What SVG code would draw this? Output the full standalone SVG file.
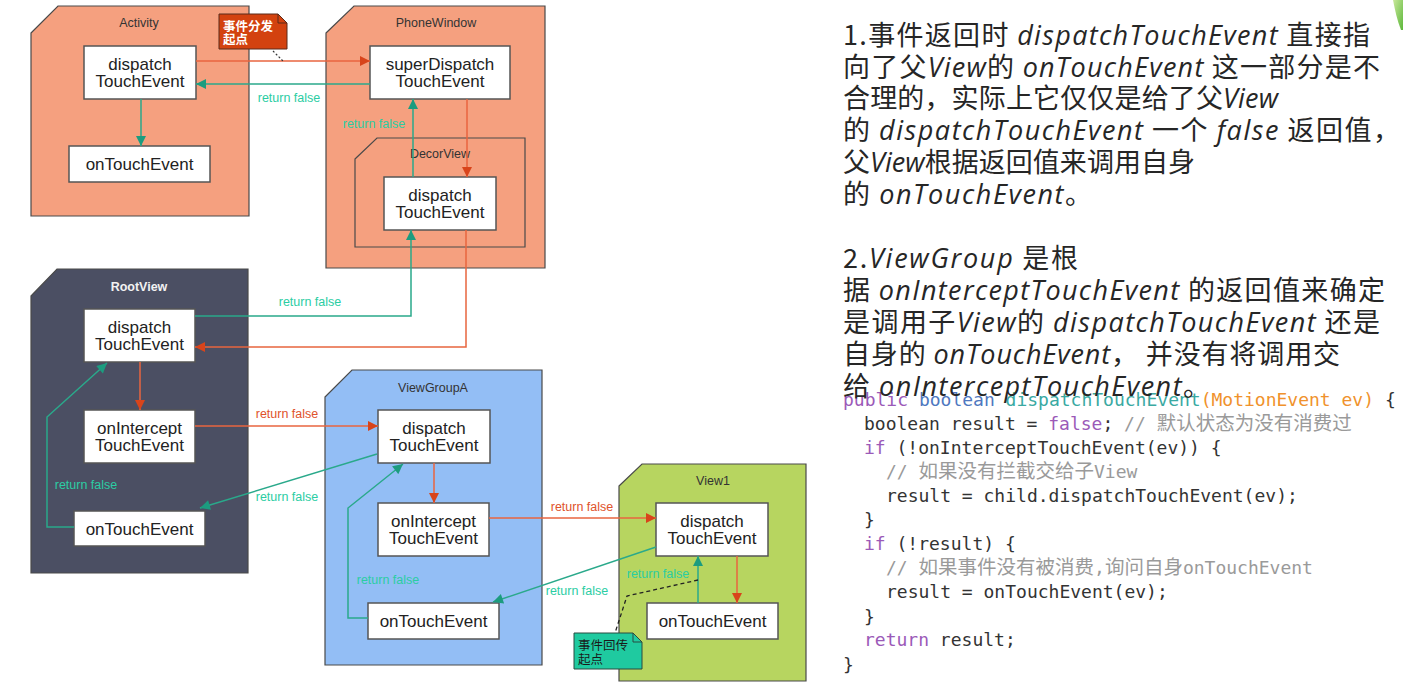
<svg xmlns="http://www.w3.org/2000/svg" width="1403" height="688" viewBox="0 0 1403 688">
<style>
.cont{stroke:#4a4a4a;stroke-width:1.2}
.salmon{fill:#f5a07f}
.slate{fill:#4b4f63}
.blue{fill:#93bef5}
.lime{fill:#b7d560}
.box{fill:#ffffff;stroke:#555555;stroke-width:1.5}
.lbl{font-family:"Liberation Sans",Arial,sans-serif;font-size:17px;fill:#222;text-anchor:middle}
.title{font-family:"Liberation Sans",Arial,sans-serif;font-size:12.5px;fill:#333;text-anchor:middle}
.rf{font-family:"Liberation Sans",Arial,sans-serif;font-size:12.5px;text-anchor:middle}
.rfg{fill:#2bcda3}
.rfr{fill:#e0532b}
.red{stroke:#e8653f;stroke-width:1.5;fill:none;marker-end:url(#ar)}
.grn{stroke:#2aa98b;stroke-width:1.5;fill:none;marker-end:url(#ag)}
.note{font-family:"Noto Sans CJK SC","Liberation Sans",sans-serif;font-size:12.5px}
.para{font-family:"Noto Sans CJK SC","Liberation Sans",sans-serif;font-size:27px;fill:#262626}
.lat{font-family:"Open Sans","DejaVu Sans",sans-serif;font-style:italic}
.code{font-family:"DejaVu Sans Mono","Liberation Mono","Noto Sans CJK SC",monospace;font-size:18px;fill:#333;white-space:pre}
.cj{font-family:"Noto Sans CJK SC",sans-serif;font-size:19.5px}
.kw{fill:#9b5ab8}
.ty{fill:#4f78c0}
.fn{fill:#3aa9a2}
.or{fill:#f0922c}
.cm{fill:#9a9a9a}
</style>
<defs>
<marker id="ar" viewBox="0 0 10 10" refX="10" refY="5" markerWidth="11" markerHeight="10" markerUnits="userSpaceOnUse" orient="auto"><path d="M0,0 L10,5 L0,10 z" fill="#d8441b"/></marker>
<marker id="ag" viewBox="0 0 10 10" refX="10" refY="5" markerWidth="11" markerHeight="10" markerUnits="userSpaceOnUse" orient="auto"><path d="M0,0 L10,5 L0,10 z" fill="#1c9c7f"/></marker>
<linearGradient id="leaf" x1="0" y1="0" x2="1" y2="1"><stop offset="0" stop-color="#c9e89a"/><stop offset="1" stop-color="#5db83b"/></linearGradient>
</defs>

<path d="M1393,0 C1395,10 1397,20 1401,30 L1403,30 L1403,0 Z" fill="url(#leaf)"/>

<g id="activity">
<path class="cont salmon" d="M31,33 L58,6 L249,6 L249,216 L31,216 Z"/>
<text class="title" x="139" y="26.5">Activity</text>
</g>
<g id="activity-dispatch">
<rect class="box" x="84" y="46" width="112" height="53"/>
<text class="lbl" x="140" y="70">dispatch</text><text class="lbl" x="140" y="87">TouchEvent</text>
</g>
<g id="activity-ontouch">
<rect class="box" x="69" y="146" width="141" height="36"/>
<text class="lbl" x="139.5" y="170">onTouchEvent</text>
</g>

<g id="phonewindow">
<path class="cont salmon" d="M326,33 L354,6 L545,6 L545,268 L326,268 Z"/>
<text class="title" x="436" y="26.5">PhoneWindow</text>
</g>
<g id="pw-superdispatch">
<rect class="box" x="370" y="46" width="140" height="53"/>
<text class="lbl" x="440" y="70">superDispatch</text><text class="lbl" x="440" y="87">TouchEvent</text>
</g>
<g id="decorview">
<path class="cont salmon" d="M355,159 L377,138 L525,138 L525,247 L355,247 Z"/>
<text class="title" x="440" y="157.5">DecorView</text>
</g>
<g id="decor-dispatch">
<rect class="box" x="384" y="177" width="112" height="53"/>
<text class="lbl" x="440" y="201">dispatch</text><text class="lbl" x="440" y="218">TouchEvent</text>
</g>

<g id="rootview">
<path class="cont slate" d="M31,296 L57,269 L248,269 L248,573 L31,573 Z"/>
<text class="title" x="139" y="290.5" style="fill:#f2f2f2;font-weight:bold">RootView</text>
</g>
<g id="rv-dispatch">
<rect class="box" x="84" y="309" width="111" height="53"/>
<text class="lbl" x="139.5" y="333">dispatch</text><text class="lbl" x="139.5" y="350">TouchEvent</text>
</g>
<g id="rv-intercept">
<rect class="box" x="84" y="410" width="111" height="53"/>
<text class="lbl" x="139.5" y="434">onIntercept</text><text class="lbl" x="139.5" y="451">TouchEvent</text>
</g>
<g id="rv-ontouch">
<rect class="box" x="74" y="511" width="131" height="35"/>
<text class="lbl" x="139.5" y="535">onTouchEvent</text>
</g>

<g id="viewgroupa">
<path class="cont blue" d="M325,397 L352,370 L542,370 L542,665 L325,665 Z"/>
<text class="title" x="433" y="391.5">ViewGroupA</text>
</g>
<g id="vga-dispatch">
<rect class="box" x="378" y="410" width="112" height="53"/>
<text class="lbl" x="434" y="434">dispatch</text><text class="lbl" x="434" y="451">TouchEvent</text>
</g>
<g id="vga-intercept">
<rect class="box" x="378" y="503" width="111" height="53"/>
<text class="lbl" x="433.5" y="527">onIntercept</text><text class="lbl" x="433.5" y="544">TouchEvent</text>
</g>
<g id="vga-ontouch">
<rect class="box" x="368" y="603" width="131" height="36"/>
<text class="lbl" x="433.5" y="627">onTouchEvent</text>
</g>

<g id="view1">
<path class="cont lime" d="M619,486 L642,464 L806,464 L806,681 L619,681 Z"/>
<text class="title" x="713" y="484.5">View1</text>
</g>
<g id="v1-dispatch">
<rect class="box" x="656" y="503" width="112" height="53"/>
<text class="lbl" x="712" y="527">dispatch</text><text class="lbl" x="712" y="544">TouchEvent</text>
</g>
<g id="v1-ontouch">
<rect class="box" x="647" y="603" width="131" height="36"/>
<text class="lbl" x="712.5" y="627">onTouchEvent</text>
</g>

<g id="connectors">
<path class="grn" d="M141,99 L141,146"/>
<path class="red" d="M196,61 L370,61"/>
<path class="grn" d="M370,84 L196,84"/>
<text class="rf rfg" x="289" y="101.5">return false</text>
<path class="red" d="M467,99 L467,177"/>
<path class="grn" d="M413,177 L413,99"/>
<text class="rf rfg" x="374" y="127.5">return false</text>
<path class="grn" d="M195,316 L411,316 L411,230"/>
<text class="rf rfg" x="310" y="305.5">return false</text>
<path class="red" d="M466,230 L466,347 L195,347"/>
<path class="red" d="M140,362 L140,410"/>
<path class="red" d="M195,426 L378,426"/>
<text class="rf rfr" x="287" y="417.5">return false</text>
<path class="grn" d="M377,454 L200,508"/>
<text class="rf rfg" x="287" y="500.5">return false</text>
<path class="grn" d="M74,527 L47,527 L47,417 L107,363"/>
<text class="rf rfg" x="86" y="488.5">return false</text>
<path class="red" d="M434,463 L434,503"/>
<path class="red" d="M489,518 L656,518"/>
<text class="rf rfr" x="582" y="510.5">return false</text>
<path class="grn" d="M656,547 L493,602"/>
<text class="rf rfg" x="577" y="594.5">return false</text>
<path class="grn" d="M368,618 L348,618 L348,508 L403,464"/>
<text class="rf rfg" x="388" y="583.5">return false</text>
<path class="red" d="M737,556 L737,603"/>
<path class="grn" d="M698,603 L698,556"/>
<text class="rf rfg" x="658" y="577.5">return false</text>
<path d="M698,580 L627,596 L615,633" fill="none" stroke="#222" stroke-width="1.3" stroke-dasharray="4,3"/>
<path d="M273,51 L283,61" fill="none" stroke="#333" stroke-width="1.2" stroke-dasharray="2,2"/>
</g>

<g id="note-start">
<path d="M219,14 L278,14 L287,23 L287,49 L219,49 Z" fill="#d3420f" stroke="#5a2a1a" stroke-width="1"/>
<path d="M278,14 L278,23 L287,23" fill="none" stroke="#5a2a1a" stroke-width="1"/>
<text class="note" x="223" y="31" fill="#ffffff" font-weight="bold">事件分发</text>
<text class="note" x="223" y="44" fill="#ffffff" font-weight="bold">起点</text>
</g>
<g id="note-return">
<path d="M574,633 L633,633 L642,642 L642,669 L574,669 Z" fill="#1fcaa0" stroke="#2a4a40" stroke-width="1"/>
<path d="M633,633 L633,642 L642,642" fill="none" stroke="#2a4a40" stroke-width="1"/>
<text class="note" x="578" y="650" fill="#1a1a1a">事件回传</text>
<text class="note" x="578" y="664" fill="#1a1a1a">起点</text>
</g>

<g id="code">
<text class="code" x="843" y="406"><tspan class="kw">public</tspan> <tspan class="ty">boolean</tspan> <tspan class="fn">dispatchTouchEvent</tspan><tspan class="or">(MotionEvent ev)</tspan> {</text>
<text class="code" x="864" y="430">boolean result = <tspan class="kw">false</tspan>; <tspan class="cm">// <tspan class="cj">默认状态为没有消费过</tspan></tspan></text>
<text class="code" x="864" y="454"><tspan class="kw">if</tspan> (!onInterceptTouchEvent(ev)) {</text>
<text class="code" x="886" y="478"><tspan class="cm">// <tspan class="cj">如果没有拦截交给子</tspan>View</tspan></text>
<text class="code" x="886" y="502">result = child.dispatchTouchEvent(ev);</text>
<text class="code" x="864" y="526">}</text>
<text class="code" x="864" y="550"><tspan class="kw">if</tspan> (!result) {</text>
<text class="code" x="886" y="574"><tspan class="cm">// <tspan class="cj">如果事件没有被消费</tspan>,<tspan class="cj">询问自身</tspan>onTouchEvent</tspan></text>
<text class="code" x="886" y="598">result = onTouchEvent(ev);</text>
<text class="code" x="864" y="623">}</text>
<text class="code" x="864" y="646"><tspan class="kw">return</tspan> result;</text>
<text class="code" x="843" y="671">}</text>
</g>

<g id="notes-text">
<text class="para" x="843" y="45" textLength="527" lengthAdjust="spacing">1.事件返回时 <tspan class="lat">dispatchTouchEvent</tspan> 直接指</text>
<text class="para" x="843" y="77" textLength="537" lengthAdjust="spacing">向了父<tspan class="lat">View</tspan>的 <tspan class="lat">onTouchEvent</tspan> 这一部分是不</text>
<text class="para" x="843" y="108" textLength="435" lengthAdjust="spacing">合理的，实际上它仅仅是给了父<tspan class="lat">View</tspan></text>
<text class="para" x="843" y="140" textLength="557" lengthAdjust="spacing">的 <tspan class="lat">dispatchTouchEvent</tspan> 一个 <tspan class="lat">false</tspan> 返回值，</text>
<text class="para" x="843" y="172" textLength="352" lengthAdjust="spacing">父<tspan class="lat">View</tspan>根据返回值来调用自身</text>
<text class="para" x="843" y="204" textLength="249" lengthAdjust="spacing">的 <tspan class="lat">onTouchEvent</tspan>。</text>
<text class="para" x="843" y="268" textLength="235" lengthAdjust="spacing">2.<tspan class="lat">ViewGroup</tspan> 是根</text>
<text class="para" x="843" y="300" textLength="542" lengthAdjust="spacing">据 <tspan class="lat">onInterceptTouchEvent</tspan> 的返回值来确定</text>
<text class="para" x="843" y="332" textLength="537" lengthAdjust="spacing">是调用子<tspan class="lat">View</tspan>的 <tspan class="lat">dispatchTouchEvent</tspan> 还是</text>
<text class="para" x="843" y="364" textLength="497" lengthAdjust="spacing">自身的 <tspan class="lat">onTouchEvent</tspan>， 并没有将调用交</text>
<text class="para" x="843" y="396" textLength="367" lengthAdjust="spacing">给 <tspan class="lat">onInterceptTouchEvent</tspan>。</text>
</g>
</svg>
